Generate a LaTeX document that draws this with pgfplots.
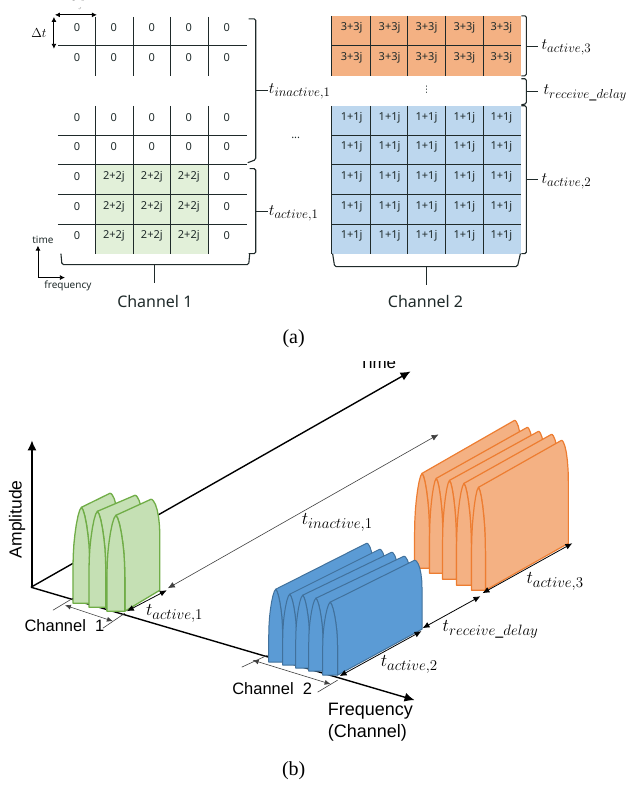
\documentclass[border=0pt]{standalone}
\usepackage{fix-cm}
\usepackage{fontspec}
\setmainfont{Noto Sans}
\newfontfamily\arialf{Liberation Sans}
\newfontfamily\serifa{Liberation Serif}
\newfontfamily\dejavu{DejaVu Sans}
\usepackage{pgfplots}
\usepackage{pgfplotstable}
\pgfplotsset{compat=1.18}
\usetikzlibrary{arrows.meta}
\DeclareMathSizes{16}{16}{13}{10}
\DeclareMathSizes{18}{18}{15}{11}

\definecolor{gfillA}{HTML}{E2F0D9}
\definecolor{ofillA}{HTML}{F4B183}
\definecolor{bfillA}{HTML}{BDD7EE}
\definecolor{gfill}{HTML}{C5E0B4}
\definecolor{gedge}{HTML}{70AD47}
\definecolor{bfill}{HTML}{5B9BD5}
\definecolor{bedge}{HTML}{41719C}
\definecolor{oedge}{HTML}{ED7D31}
\definecolor{ink}{HTML}{1F2A2A}

% one pulse, unit shape: front face
\pgfplotstableread{
u v
0 0
0 .35
.02 .5
.06 .62
.12 .72
.2 .82
.3 .91
.4 .97
.5 1
.6 .97
.7 .91
.8 .82
.88 .72
.94 .62
.98 .5
1 .35
1 0
}\archface
% extruded part, b=1 is the far end (rounder than the front)
\pgfplotstableread{
u v b
.5 1 0
.5 1 1
.56 .998 1
.63 .986 1
.75 .946 1
.854 .883 1
.933 .8 1
.983 .704 1
1 .6 1
1 0 1
1 0 0
1 .35 0
.98 .5 0
.94 .62 0
.88 .72 0
.8 .82 0
.7 .91 0
.6 .97 0
}\archbody

% xl, ybase, width, height, dx, dy, far height, style
\newcommand{\pulse}[8]{
  \addplot[#8] table[x expr={#1+\thisrow{u}*#3+\thisrow{b}*(#5)},
    y expr={#2-\thisrow{v}*(#4+\thisrow{b}*(#7-#4))+\thisrow{b}*(#6)}] \archbody -- cycle;
  \addplot[#8] table[x expr={#1+\thisrow{u}*#3},
    y expr={#2-\thisrow{v}*#4}] \archface -- cycle;
}
\newcommand{\seg}[4]{\addplot[ink,line width=1pt] coordinates {(#1,#2)(#3,#4)};}
\newcommand{\brc}[1]{\addplot[ink,line width=1.1pt,rounded corners=1.5pt] coordinates {#1};}
\newcommand{\cellsL}[2]{
  \node[cell] at (axis cs:77,#1) {0};
  \node[cell] at (axis cs:114,#1) {#2};
  \node[cell] at (axis cs:152,#1) {#2};
  \node[cell] at (axis cs:189,#1) {#2};
  \node[cell] at (axis cs:227,#1) {0};
}
\newcommand{\cellsR}[2]{
  \node[cell] at (axis cs:352,#1) {#2};
  \node[cell] at (axis cs:390,#1) {#2};
  \node[cell] at (axis cs:427,#1) {#2};
  \node[cell] at (axis cs:465,#1) {#2};
  \node[cell] at (axis cs:502,#1) {#2};
}

\begin{document}
\begin{tikzpicture}[
  cell/.style={inner sep=0pt,text=ink,font=\fontsize{11}{12}\selectfont},
  mth/.style={inner sep=0pt,anchor=west,font=\fontsize{16}{18}\selectfont},
  mthb/.style={inner sep=0pt,anchor=west,font=\fontsize{18}{20}\selectfont},
  dim/.style={black!75,line width=0.6pt},
  heads/.style={{Latex[length=7pt,width=6pt]}-{Latex[length=7pt,width=6pt]}},
]
\begin{axis}[
  scale only axis,width=630pt,height=785pt,
  xmin=0,xmax=630,ymin=0,ymax=785,y dir=reverse,
  enlargelimits=false,hide axis,clip=false,
]
% page corners, keeps the picture at full size
\addplot[draw=none] coordinates {(0,0)(630,785)};
% ---- (a) fills
\addplot[fill=gfillA,draw=none] coordinates {(96,164)(209,164)(209,253)(96,253)} -- cycle;
\addplot[fill=ofillA,draw=none] coordinates {(332,15)(522,15)(522,75)(332,75)} -- cycle;
\addplot[fill=bfillA,draw=none] coordinates {(332,105)(522,105)(522,253)(332,253)} -- cycle;
% ---- (a) left grid
\seg{96}{16}{96}{75}\seg{134}{16}{134}{75}\seg{171}{16}{171}{75}\seg{209}{16}{209}{75}
\seg{96}{105}{96}{253}\seg{134}{105}{134}{253}\seg{171}{105}{171}{253}\seg{209}{105}{209}{253}
\seg{58}{45}{247}{45}\seg{58}{135}{247}{135}\seg{58}{164}{247}{164}\seg{58}{194}{247}{194}\seg{58}{224}{247}{224}
% ---- (a) right grid
\seg{332}{15}{332}{75}\seg{371}{15}{371}{75}\seg{408}{15}{408}{75}\seg{446}{15}{446}{75}\seg{484}{15}{484}{75}
\seg{332}{105}{332}{253}\seg{371}{105}{371}{253}\seg{408}{105}{408}{253}\seg{446}{105}{446}{253}\seg{484}{105}{484}{253}
\seg{332}{45}{522}{45}\seg{332}{135}{522}{135}\seg{332}{164}{522}{164}\seg{332}{194}{522}{194}\seg{332}{224}{522}{224}
% ---- (a) cells
\cellsL{27}{0}\cellsL{57}{0}\cellsL{117}{0}\cellsL{146}{0}
\cellsL{176}{2+2j}\cellsL{206}{2+2j}\cellsL{235}{2+2j}
\cellsR{27}{3+3j}\cellsR{57}{3+3j}
\cellsR{117}{1+1j}\cellsR{146}{1+1j}\cellsR{176}{1+1j}\cellsR{206}{1+1j}\cellsR{235}{1+1j}
% ---- (a) braces
\brc{(249,18)(256,18)(256,90)(256,159)(248,162)}
\addplot[ink,line width=1.1pt] coordinates {(256,90)(268,90)};
\brc{(250,168)(256,168)(256,253)(249,253)}
\addplot[ink,line width=1.1pt] coordinates {(256,211)(268,211)};
\brc{(61,253)(62,264)(249,264)(250,253)}
\addplot[ink,line width=1.1pt] coordinates {(155,264)(155,282)};
\brc{(522,15)(527,15)(527,75)(522,75)}
\addplot[ink,line width=1.1pt] coordinates {(527,46)(539,46)};
\brc{(522,78)(527,78)(527,103)(522,104)}
\addplot[ink,line width=1.1pt] coordinates {(527,91)(539,91)};
\brc{(522,105)(527,105)(527,253)(522,253)}
\addplot[ink,line width=1.1pt] coordinates {(527,179)(539,179)};
\brc{(333,253)(335,266)(518,266)(521,253)}
\addplot[ink,line width=1.1pt] coordinates {(427,266)(427,284)};
% ---- (a) small arrows
\addplot[black,line width=0.9pt,{Latex[length=5pt,width=5pt]}-{Latex[length=5pt,width=5pt]}] coordinates {(55,14)(97,14)};
\addplot[black,line width=0.9pt,{Latex[length=5pt,width=5pt]}-{Latex[length=5pt,width=5pt]}] coordinates {(54,16)(54,48)};
\addplot[black,line width=0.8pt,-{Latex[length=5pt,width=5pt]}] coordinates {(38,277)(38,245)};
\addplot[black,line width=0.8pt,-{Latex[length=5pt,width=5pt]}] coordinates {(38,277)(65,277)};
% ---- (a) text
\node[inner sep=0pt,text=black!35,font=\fontsize{11}{12}\selectfont] at (axis cs:77,4) {$\Delta f$};
\addplot[fill=white,draw=none] coordinates {(60,0)(95,0)(95,6)(60,6)} -- cycle;
\node[inner sep=0pt,font=\fontsize{13}{14}\selectfont] at (axis cs:39,32) {$\Delta t$};
\node[inner sep=0pt,text=ink,font=\fontsize{10}{12}\selectfont] at (axis cs:43,239) {time};
\node[inner sep=0pt,text=ink,font=\fontsize{10}{12}\selectfont] at (axis cs:68,285) {frequency};
\node[inner sep=0pt,text=ink,font=\fontsize{16}{18}\selectfont] at (axis cs:155,301) {Channel 1};
\node[inner sep=0pt,text=ink,font=\fontsize{16}{18}\selectfont] at (axis cs:426,301) {Channel 2};
\node[inner sep=0pt,text=ink,font=\fontsize{11}{12}\selectfont] at (axis cs:296,137) {...};
\node[inner sep=0pt,text=ink,font=\dejavu\fontsize{9}{10}\selectfont] at (axis cs:427,89) {⋮};
\node[mth] at (axis cs:269,91) {$t_{inactive,1}$};
\node[mth] at (axis cs:269,213) {$t_{active,1}$};
\node[mth] at (axis cs:542,47) {$t_{active,3}$};
\node[mth] at (axis cs:544,92) {$t_{receive\_delay}$};
\node[mth] at (axis cs:542,181) {$t_{active,2}$};
\node[inner sep=0pt,font=\serifa\fontsize{20}{22}\selectfont] at (axis cs:294,338) {(a)};
% ---- (b) axes
\addplot[black,line width=1.4pt,-{Latex[length=10pt,width=9pt]}] coordinates {(32,587)(32,440)};
\addplot[black,line width=1.4pt,-{Latex[length=10pt,width=9pt]}] coordinates {(31,587)(411,371)};
\addplot[black,line width=1.4pt,-{Latex[length=10pt,width=9pt]}] coordinates {(31,587)(415,700)};
% ---- (b) pulses
\pgfplotsset{
  gp/.style={fill=gfill,draw=gedge,line width=1.3pt,line join=round},
  bp/.style={fill=bfill,draw=bedge,line width=1pt,line join=round},
  op/.style={fill=ofillA,draw=oedge,line width=1.2pt,line join=round},
}
\pulse{73}{603}{17}{96}{28.5}{-15}{95}{gp}
\pulse{89}{607}{17}{96}{37.5}{-18}{94}{gp}
\pulse{107}{611}{18}{96}{35}{-21}{91}{gp}
\pulse{415}{568}{15}{95}{92.5}{-47}{101}{op}
\pulse{430}{573}{13.5}{95}{91}{-47}{99}{op}
\pulse{443}{579}{14}{99}{89}{-47}{101}{op}
\pulse{457}{585}{15}{102}{87.5}{-47}{104}{op}
\pulse{472}{590}{14}{103}{83}{-47}{103}{op}
\pulse{269}{662}{14}{73}{91}{-45}{74}{bp}
\pulse{283}{665}{14}{71}{90}{-45}{71}{bp}
\pulse{296}{668}{14}{73}{89}{-45}{71}{bp}
\pulse{309}{671}{14.5}{73}{88}{-45}{70}{bp}
\pulse{323}{675}{15}{73}{84.5}{-46}{69}{bp}
% ---- (b) dimension arrows
\addplot[dim,heads] coordinates {(168,588)(439,434)};
\addplot[black,line width=0.8pt,heads] coordinates {(127,611)(167,590)};
\addplot[dim] coordinates {(53,610)(73,598)};
\addplot[dim] coordinates {(103,628)(125,613)};
\addplot[dim,{Latex[length=6pt,width=5pt]}-{Latex[length=6pt,width=5pt]}] coordinates {(65,605)(113,621)};
\addplot[dim] coordinates {(242,667)(268,655)};
\addplot[dim] coordinates {(318,692)(338,680)};
\addplot[dim,{Latex[length=6pt,width=5pt]}-{Latex[length=6pt,width=5pt]}] coordinates {(253,660)(331,684)};
\addplot[black,line width=0.8pt,heads] coordinates {(340,676)(422,631)};
\addplot[black,line width=0.8pt,heads] coordinates {(423,628)(481,596)};
\addplot[black,line width=0.8pt,heads] coordinates {(483,593)(573,543)};
% ---- (b) text
\node[inner sep=0pt,anchor=base,font=\arialf\fontsize{17}{19}\selectfont] at (axis cs:378,368) {Time};
\addplot[fill=white,draw=none] coordinates {(350,340)(405,340)(405,361)(350,361)} -- cycle;
\node[inner sep=0pt,rotate=90,font=\arialf\fontsize{17.5}{19}\selectfont] at (axis cs:17,519) {Amplitude};
\node[inner sep=0pt,font=\arialf\fontsize{16.5}{18}\selectfont] at (axis cs:64.5,625) {Channel\ \ 1};
\node[inner sep=0pt,font=\arialf\fontsize{16.5}{18}\selectfont] at (axis cs:272.5,688) {Channel\ \ 2};
\node[inner sep=0pt,anchor=west,font=\arialf\fontsize{18}{20}\selectfont] at (axis cs:328,711) {Frequency};
\node[inner sep=0pt,anchor=west,font=\arialf\fontsize{18}{20}\selectfont] at (axis cs:328,733) {(Channel)};
\node[mthb] at (axis cs:302,522) {$t_{inactive,1}$};
\node[mthb] at (axis cs:146,613) {$t_{active,1}$};
\node[mthb] at (axis cs:381,664) {$t_{active,2}$};
\node[mthb] at (axis cs:527,581) {$t_{active,3}$};
\node[mthb] at (axis cs:443,629) {$t_{receive\_delay}$};
\node[inner sep=0pt,font=\serifa\fontsize{20}{22}\selectfont] at (axis cs:294,771) {(b)};
\end{axis}
\end{tikzpicture}
\end{document}
